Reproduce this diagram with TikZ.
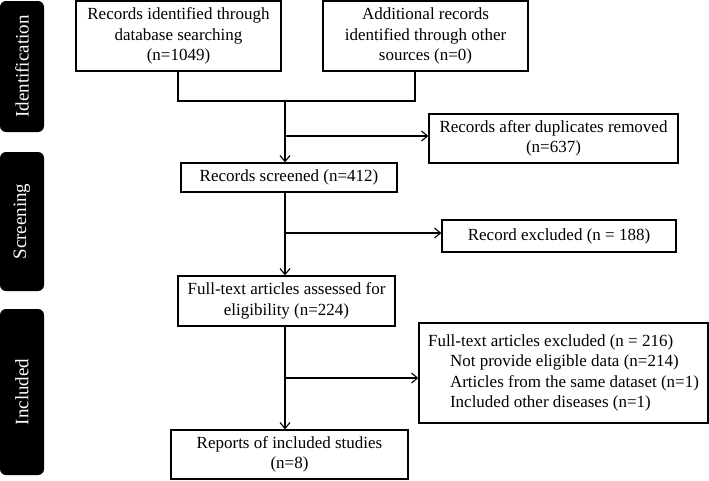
\documentclass[tikz,border=0pt]{standalone}
\usepackage{fontspec}
\setmainfont{Liberation Serif}
\usetikzlibrary{arrows.meta}
\tikzset{
  box/.style={draw=black, line width=1.3pt, align=center, inner sep=2pt,
    font=\fontsize{17}{20.5}\selectfont},
  phase/.style={fill=black, text=white, rounded corners=6pt, rotate=90,
    minimum height=44pt, inner sep=0pt, font=\fontsize{19}{21}\selectfont},
  flow/.style={draw=black, line width=1.3pt},
  arr/.style={flow, -{Straight Barb[length=6pt,width=10pt,line width=1.1pt]}}
}
\begin{document}
\begin{tikzpicture}[x=1pt,y=-1pt]
  \useasboundingbox (0,0) rectangle (709,480);

  % phase bars
  \node[phase, minimum width=131pt] (ident) at (22,66.5) {Identification};
  \node[phase, minimum width=139pt] (screen) at (22,221.5) {Screening};
  \node[phase, minimum width=166pt] (incl) at (22,392) {Included};

  % boxes
  \node[box, minimum width=205pt, minimum height=70pt] (db) at (178.5,36)
    {Records identified through\\database searching\\(n=1049)};
  \node[box, minimum width=205pt, minimum height=70pt] (other) at (425.5,36)
    {Additional records\\identified through other\\sources (n=0)};
  \node[box, minimum width=249pt, minimum height=49pt] (dup) at (553.5,138.5)
    {Records after duplicates removed\\(n=637)};
  \node[box, minimum width=216pt, minimum height=29pt] (screened) at (289,177.5)
    {Records screened (n=412)};
  \node[box, minimum width=234pt, minimum height=32pt] (excl) at (559,236)
    {Record excluded (n = 188)};
  \node[box, minimum width=217pt, minimum height=50pt] (full) at (286.5,301)
    {Full-text articles assessed for\\eligibility (n=224)};
  \node[box, minimum width=289pt, minimum height=100pt, align=left] (fullexcl) at (563.5,373)
    {Full-text articles excluded (n = 216)\\
     \hspace*{22pt}Not provide eligible data (n=214)\\
     \hspace*{22pt}Articles from the same dataset (n=1)\\
     \hspace*{22pt}Included other diseases (n=1)};
  \node[box, minimum width=237pt, minimum height=49pt] (reports) at (289.5,454.5)
    {Reports of included studies\\(n=8)};

  % connectors
  \coordinate (mdb) at (178,101);
  \coordinate (mother) at (415,101);
  \coordinate (mid) at (285,101);
  \draw[flow] (db.south -| mdb) -- (mdb) -- (mother) -- (mother |- other.south);
  \draw[arr] (mid) -- (mid |- screened.north);
  \draw[arr] (mid |- 0,136) -- (dup.west |- 0,136);
  \draw[arr] (mid |- screened.south) -- (mid |- full.north);
  \draw[arr] (mid |- 0,233) -- (excl.west |- 0,233);
  \draw[arr] (mid |- full.south) -- (mid |- reports.north);
  \draw[arr] (mid |- 0,378) -- (fullexcl.west |- 0,378);
\end{tikzpicture}
\end{document}
